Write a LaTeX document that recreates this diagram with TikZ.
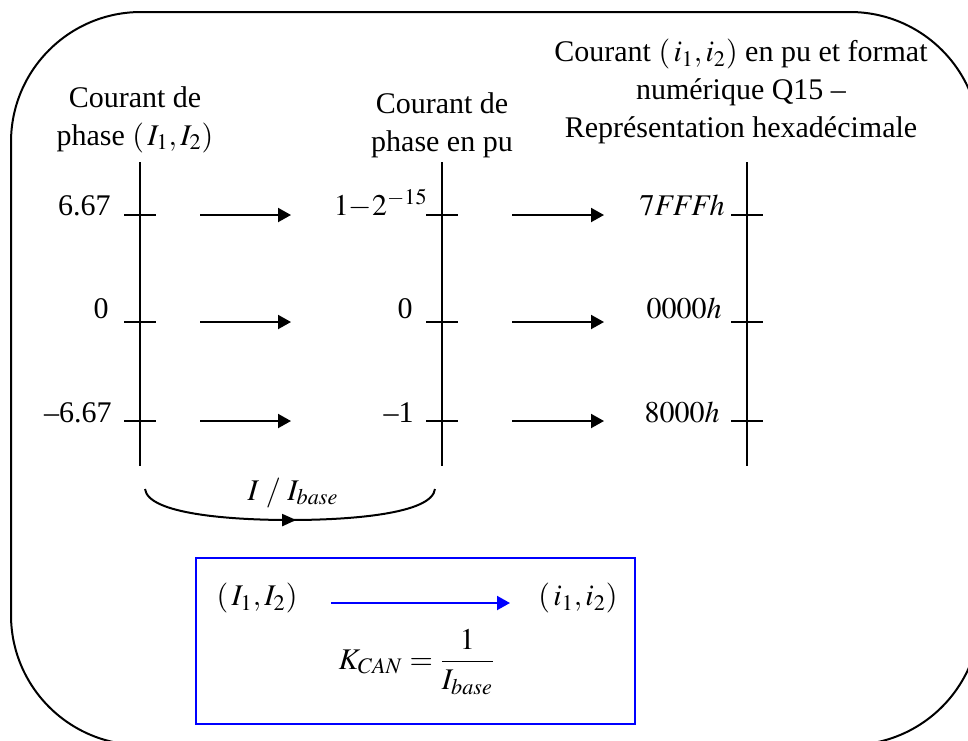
\documentclass[tikz,border=0pt]{standalone}
\usepackage{mathptmx}
\usepackage{fontspec}
\setmainfont{Liberation Serif}
\usepackage{tikz}
\usetikzlibrary{
  arrows.meta,
  positioning,
  calc,
  decorations.markings
}
\definecolor{CanBlue}{HTML}{0000FF}

\begin{document}
\begin{tikzpicture}[
    x=0.5pt, y=-0.5pt,
    every node/.style={font=\fontsize{15}{19}\selectfont, inner sep=0pt},
    axis/.style={line width=1pt},
    conv/.style={line width=1pt, -{Triangle[length=6.5pt,width=7pt]}},
    hdr/.style={align=center, anchor=north}
  ]
    \useasboundingbox (0,0) rectangle (968,740);
    % outer frame, cut by the page
    \begin{scope}
      \clip (0,0) rectangle (968,740);
      \draw[line width=1pt, rounded corners=65pt] (11,12) rectangle (980,745);
    \end{scope}
    % column headers
    \node[hdr] (hdph) at (135,86) {Courant de\\phase $\left(\,I_1,I_2\right)$};
    \node[hdr] (hdpu) at (442,92) {Courant de\\phase en pu};
    \node[hdr] (hdhx) at (741,39) {Courant $\left(\,i_1,i_2\right)$ en pu et format\\numérique Q15 --\\Représentation hexadécimale};
    % scales
    \foreach \name/\x in {ph/140, pu/442, hx/747}{
      \draw[axis] (\x,162) coordinate (\name top) -- (\x,466) coordinate (\name bot);
      \foreach \row/\y in {1/215, 2/322, 3/421}{
        \draw[axis] (\x-16,\y) coordinate (\name tick\row) -- (\x+16,\y);
      }
    }
    % values on each scale
    \foreach \name/\row/\xr/\val in {
      ph/1/111/{6.67},
      ph/2/109/{0},
      ph/3/112/{--6.67},
      pu/1/428/{$1{-}2^{-15}$},
      pu/2/413/{0},
      pu/3/414/{--1},
      hx/1/725/{$7\mathit{FFFh}$},
      hx/2/722/{$0000h$},
      hx/3/720/{$8000h$}
    }{
      \node[anchor=base east] (\name val\row) at (\xr,{215+(\row-1)*103.5}) {\val};
    }
    % conversion arrows
    \foreach \row/\y in {1/215, 2/322, 3/421}{
      \coordinate (a\row s) at (200,\y);
      \coordinate (a\row e) at (291,\y);
      \coordinate (b\row s) at (512,\y);
      \coordinate (b\row e) at (604,\y);
      \draw[conv] (a\row s) -- (a\row e);
      \draw[conv] (b\row s) -- (b\row e);
    }
    % scaling brace
    \coordinate (brl) at (145,489);
    \coordinate (brr) at (435,489);
    \draw[line width=1pt, decoration={markings,
        mark=at position 0.52 with {\arrow{Triangle[length=7pt,width=6pt]}}},
      postaction={decorate}]
      (brl) .. controls (148,514) and (230,520) .. (290,520)
            .. controls (350,520) and (432,514) .. (brr);
    \node[anchor=base] (ibase) at (293,500) {$I\;/\;I_{base}$};
    % gain box
    \node[draw=CanBlue, line width=1pt, minimum width=219.5pt, minimum height=83pt]
      (kbox) at (415.5,641) {};
    \node (capI) at (257,598) {$\left(\,I_1,I_2\right)$};
    \node (capi) at (578,598) {$\left(\,i_1,i_2\right)$};
    \coordinate (ks) at (331,603);
    \coordinate (ke) at (510,603);
    \draw[conv, CanBlue] (ks) -- (ke);
    \node (kcan) at (417,662) {$\displaystyle K_{CAN}=\frac{1}{I_{base}}$};
  \end{tikzpicture}
\end{document}
